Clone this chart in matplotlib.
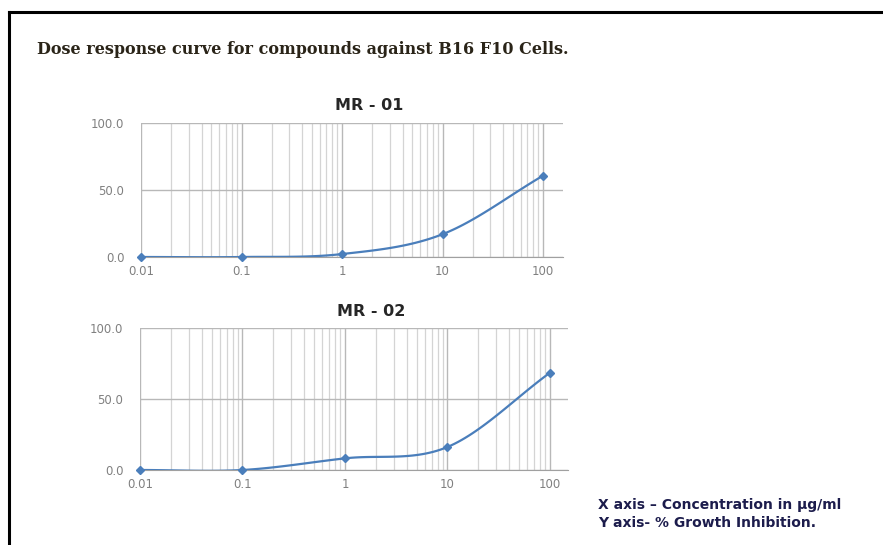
import numpy as np
import matplotlib.pyplot as plt
from matplotlib.lines import Line2D
from matplotlib.ticker import FixedLocator, NullFormatter

conc = [0.01, 0.1, 1, 10, 100]
mr01 = [0.0, 0.0, 2.2, 17.0, 60.7]
mr02 = [0.0, 0.0, 8.2, 16.2, 68.5]
x_labels = ['0.01', '0.1', '1', '10', '100']
y_ticks = [0, 50, 100]

blue = '#4a7ebb'
grey_txt = '#808080'


def smooth(xs, ys, n=30):
    # Excel-style smoothed line: Catmull-Rom through the points, in log-x space
    lx = np.log10(xs)
    ys = np.asarray(ys, float)
    px = np.concatenate([[2 * lx[0] - lx[1]], lx, [2 * lx[-1] - lx[-2]]])
    py = np.concatenate([[2 * ys[0] - ys[1]], ys, [2 * ys[-1] - ys[-2]]])
    t = np.linspace(0, 1, n)
    outx, outy = [], []
    for i in range(1, len(px) - 2):
        for arr, out in ((px, outx), (py, outy)):
            p0, p1, p2, p3 = arr[i - 1], arr[i], arr[i + 1], arr[i + 2]
            out.extend(0.5 * (2 * p1 + (p2 - p0) * t
                              + (2 * p0 - 5 * p1 + 4 * p2 - p3) * t ** 2
                              + (-p0 + 3 * p1 - 3 * p2 + p3) * t ** 3))
    return 10 ** np.array(outx), np.array(outy)


fig = plt.figure(figsize=(8.83, 5.45), dpi=100)

# page frame (top and left edge)
fig.add_artist(Line2D([9 / 883, 1], [1 - 12 / 545, 1 - 12 / 545], color='black', lw=2.2))
fig.add_artist(Line2D([9 / 883, 9 / 883], [0, 1 - 12 / 545], color='black', lw=2.2))

fig.text(37 / 883, 1 - 50 / 545, 'Dose response curve for compounds against B16 F10 Cells.',
         fontsize=11.5, fontweight='bold', family='DejaVu Serif', color='#2a2418', va='center')


def draw(rect, ys, title, xmax, title_y):
    ax = fig.add_axes(rect)
    ax.set_xscale('log')
    ax.set_xlim(0.01, xmax)
    ax.set_ylim(0, 100)
    sx, sy = smooth(conc, ys)
    ax.plot(sx, sy, color=blue, lw=1.6, zorder=3)
    ax.plot(conc, ys, ls='none', marker='D', ms=4.5, color=blue, zorder=4, clip_on=False)
    ax.set_xticks(conc)
    ax.set_xticklabels(x_labels)
    minors = [m * 10.0 ** e for e in range(-2, 2) for m in range(2, 10)]
    ax.xaxis.set_minor_locator(FixedLocator(minors))
    ax.xaxis.set_minor_formatter(NullFormatter())
    ax.set_yticks(y_ticks)
    ax.set_yticklabels(['%.1f' % v for v in y_ticks])
    ax.grid(True, which='major', axis='both', color='#b8b8b8', lw=1.0)
    ax.grid(True, which='minor', axis='x', color='#d4d4d4', lw=0.9)
    ax.set_axisbelow(True)
    for s in ['top', 'right', 'left']:
        ax.spines[s].set_visible(False)
    ax.spines['bottom'].set_color('#a0a0a0')
    ax.tick_params(which='both', length=0, colors=grey_txt, labelsize=8.5)
    ax.tick_params(axis='y', pad=12)
    ax.tick_params(axis='x', pad=6)
    for lab in ax.get_xticklabels() + ax.get_yticklabels():
        lab.set_family('DejaVu Sans')
    fig.text(rect[0] + rect[2] * 0.54, title_y, title, ha='center', va='center',
             fontsize=11.5, fontweight='bold', family='DejaVu Sans', color='#262626')
    return ax


draw([141 / 883, 1 - 257 / 545, 422 / 883, 134 / 545], mr01, 'MR - 01', 158, 1 - 106 / 545)
draw([140 / 883, 1 - 470 / 545, 428 / 883, 142 / 545], mr02, 'MR - 02', 150, 1 - 311 / 545)

fig.text(598 / 883, 1 - 505 / 545, 'X axis \u2013 Concentration in \u00b5g/ml', fontsize=10,
         fontweight='bold', family='DejaVu Sans', color='#1c1c4c', va='center')
fig.text(598 / 883, 1 - 523 / 545, 'Y axis- % Growth Inhibition.', fontsize=10,
         fontweight='bold', family='DejaVu Sans', color='#1c1c4c', va='center')

fig.savefig('out.png', dpi=100)
